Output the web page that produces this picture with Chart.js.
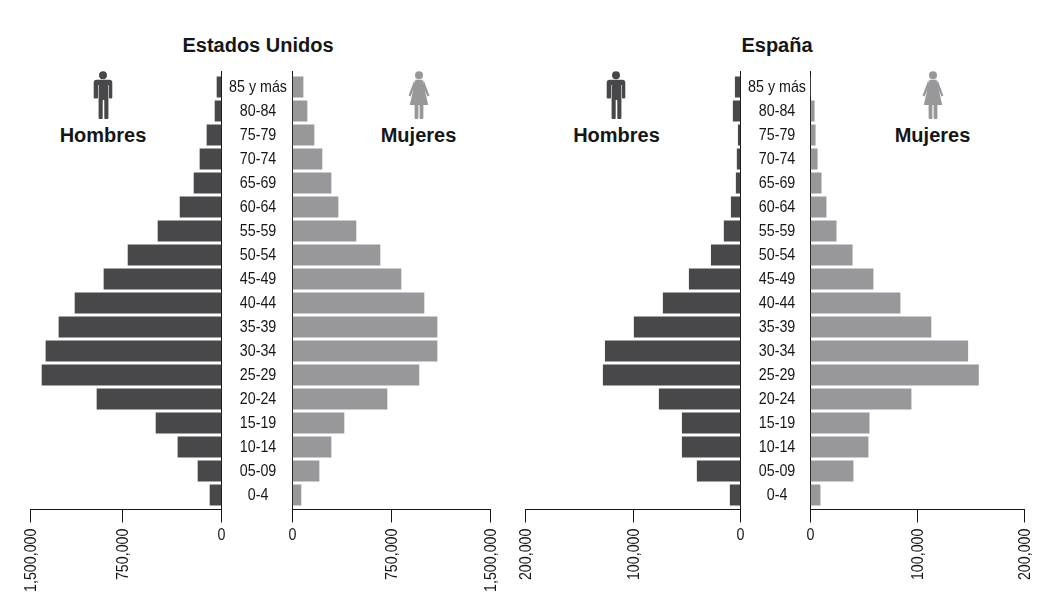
<!DOCTYPE html>
<html lang="es">
<head>
<meta charset="utf-8">
<title>Pirámides de población</title>
<script src="https://cdn.jsdelivr.net/npm/chart.js@4/dist/chart.umd.js"></script>
<style>
  html, body { margin: 0; padding: 0; background: #fff; }
  #stage { position: relative; width: 1062px; height: 606px; overflow: hidden; background: #fff; }
  canvas { position: absolute; top: 0; }
  .label { position: absolute; transform: translate(-50%, -50%); white-space: nowrap;
           font: bold 20px "Liberation Sans", Arial, sans-serif; color: #161616; }
  svg.icon { position: absolute; top: 71px; width: 30px; height: 49px; }
</style>
</head>
<body>
<div id="stage">
  <div class="label" style="left:258px;top:45px">Estados Unidos</div>
  <div class="label" style="left:777px;top:45px">España</div>
  <div class="label" style="left:103px;top:135px">Hombres</div>
  <div class="label" style="left:418.5px;top:135px">Mujeres</div>
  <div class="label" style="left:616.5px;top:135px">Hombres</div>
  <div class="label" style="left:932.5px;top:135px">Mujeres</div>
  <svg width="0" height="0" style="position:absolute">
    <defs>
      <g id="man" fill="#48484a">
        <circle cx="15" cy="4.2" r="4"/>
        <path d="M8.6 8.7h12.8q2.9 0 2.9 3V26.5q0 1-1.2 1h-1.1q-1 0-1-1V14h-.6V47q0 .9-1 .9h-2.1q-1 0-1-.9V29h-1.6V47q0 .9-1 .9h-2.1q-1 0-1-.9V14h-.6V26.5q0 1-1 1H6.9q-1.2 0-1.2-1V11.7q0-3 2.9-3z"/>
      </g>
      <g id="woman" fill="#98989b">
        <circle cx="15" cy="4.2" r="4"/>
        <path d="M11.5 8.7h7L24.2 34H19.4V47q0 .9-1 .9h-1.8q-1 0-1-.9V34h-1.2V47q0 .9-1 .9h-1.8q-1 0-1-.9V34H5.8z"/>
        <path d="M10.3 9.2 4.6 24.6 6.6 25.6 11.2 14.5z"/>
        <path d="M19.7 9.2 25.4 24.6 23.4 25.6 18.8 14.5z"/>
      </g>
    </defs>
  </svg>
  <svg class="icon" style="left:87.5px" viewBox="0 0 30 49"><use href="#man"/></svg>
  <svg class="icon" style="left:403.5px" viewBox="0 0 30 49"><use href="#woman"/></svg>
  <svg class="icon" style="left:601px" viewBox="0 0 30 49"><use href="#man"/></svg>
  <svg class="icon" style="left:917.5px" viewBox="0 0 30 49"><use href="#woman"/></svg>
</div>
<script>
const ageGroups = ['85 y más','80-84','75-79','70-74','65-69','60-64','55-59','50-54','45-49','40-44','35-39','30-34','25-29','20-24','15-19','10-14','05-09','0-4'];
const usMen   = [34000,49000,110000,163000,208000,314000,481000,708000,901000,1137000,1268000,1374000,1406000,958000,496000,330000,178000,87000];
const usWomen = [80000,110000,163000,223000,292000,345000,481000,663000,822000,996000,1095000,1095000,958000,716000,390000,292000,201000,64000];
const esMen   = [4900,6800,2100,3100,4000,8600,15200,27200,47700,71900,98900,125800,127700,75600,54200,54200,40300,9600];
const esWomen = [2000,3500,4400,6300,10000,14600,24000,39000,58500,83700,112600,147000,157000,94000,54800,53800,39800,9000];
const usTicks = [0,750000,1500000];
const esTicks = [0,100000,200000];

const MEN = '#48484a', WOMEN = '#98989b', INK = '#161616';
const TICK_FONT = { family: '"Liberation Sans",Arial,sans-serif', size: 17 };
const BAND = 24, LEAD = 16, CONDENSE = 0.84;

// The reference's tick text is set condensed: fillText's maxWidth narrows each label around its anchor.
function condense(scale, items) {
  const ctx = scale.ctx;
  ctx.save();
  items.forEach(it => {
    ctx.font = it.font.string;
    it.options.maxWidth = ctx.measureText(it.label).width * CONDENSE;
  });
  ctx.restore();
}

// Linear axis whose interval between ticks may be unequal, and whose zero label stays upright.
class PyramidValueScale extends Chart.LinearScale {
  static id = 'pyramidValue';
  static defaults = Chart.LinearScale.defaults;
  getPixelForValue(v) {
    if (v === null || v === undefined) return NaN;
    const bend = this.options.midDecimal, mid = (this.min + this.max) / 2;
    let d = (v - this.min) / (this.max - this.min);
    if (bend !== undefined) d = v <= mid ? (v - this.min) / (mid - this.min) * bend
                                         : bend + (v - mid) / (this.max - mid) * (1 - bend);
    return this.getPixelForDecimal(d);
  }
  _computeLabelItems(area) {
    const items = super._computeLabelItems(area);
    condense(this, items);
    items.forEach((it, i) => {
      const t = it.options.translation;
      if (it.label === '0') {
        it.options.rotation = 0;
        it.options.textAlign = 'center';
        it.options.textBaseline = 'middle';
        it.options.translation = [this.getPixelForTick(i), t[1]];
        it.textOffset = 7;
      } else {
        it.options.translation = [t[0] + 1, t[1]];
      }
    });
    return items;
  }
}
// Category axis with a fixed band height, whose axis line runs a little past the first and last bands.
class PyramidCategoryScale extends Chart.CategoryScale {
  static id = 'pyramidCategory';
  static defaults = Chart.CategoryScale.defaults;
  buildTicks() {
    const t = super.buildTicks();
    this._startValue = -LEAD / BAND;
    this._valueRange = this.height / BAND;
    return t;
  }
  _computeLabelItems(area) {
    const items = super._computeLabelItems(area);
    condense(this, items);
    return items;
  }
}
Chart.register(PyramidValueScale, PyramidCategoryScale);

function panel(cfg) {
  const c = document.createElement('canvas');
  c.width = cfg.width; c.height = 606;
  c.style.left = cfg.left + 'px';
  document.getElementById('stage').appendChild(c);
  const isMen = cfg.side === 'men';
  new Chart(c, {
    type: 'bar',
    data: { labels: ageGroups, datasets: [{
      label: cfg.name, data: cfg.values, barThickness: 20.5,
      backgroundColor: cfg.colors || cfg.color, borderWidth: 0
    }] },
    options: {
      indexAxis: 'y', responsive: false, animation: false, events: [],
      layout: { padding: { top: 71, bottom: 0, left: cfg.padL, right: cfg.padR } },
      plugins: { legend: { display: false }, tooltip: { enabled: false }, title: { display: false } },
      scales: {
        x: {
          type: 'pyramidValue', position: 'bottom', reverse: isMen,
          min: 0, max: cfg.ticks[cfg.ticks.length - 1], midDecimal: cfg.midDecimal,
          afterBuildTicks: s => { s.ticks = cfg.ticks.map(v => ({ value: v })); },
          afterFit: s => { s.height = 96.5; },
          grid: { display: true, drawOnChartArea: false, drawTicks: true, tickLength: 13, tickColor: INK, tickWidth: 1 },
          border: { display: true, color: INK, width: 1 },
          ticks: { autoSkip: false, minRotation: 90, maxRotation: 90, padding: 6, color: INK, font: TICK_FONT,
                   callback: v => v.toLocaleString('en-US') }
        },
        y: {
          type: 'pyramidCategory', offset: true, position: isMen ? 'right' : 'left',
          afterFit: s => { s.width = cfg.yWidth; },
          grid: { display: false, drawTicks: false },
          border: { display: true, color: INK, width: 1 },
          ticks: { display: !isMen, autoSkip: false, padding: cfg.labelPad || 0, crossAlign: 'center', color: INK, font: TICK_FONT }
        }
      }
    }
  });
}

// The oldest Spanish women's bar is masked white in the source picture.
const esWomenColors = ageGroups.map((_, i) => i === 0 ? '#ffffff' : WOMEN);

panel({ name: 'Hombres EE. UU.', side: 'men', left: 0, width: 240, padL: 30.5, padR: 18.5, yWidth: 0, values: usMen, color: MEN, ticks: usTicks, midDecimal: 99 / 191 });
panel({ name: 'Mujeres EE. UU.', side: 'women', left: 220, width: 300, padL: 0, padR: 29.5, yWidth: 72.5, labelPad: 0, values: usWomen, color: WOMEN, ticks: usTicks });
panel({ name: 'Hombres España', side: 'men', left: 490, width: 260, padL: 35.5, padR: 9.5, yWidth: 0, values: esMen, color: MEN, ticks: esTicks });
panel({ name: 'Mujeres España', side: 'women', left: 740, width: 322, padL: 0, padR: 37.5, yWidth: 70.5, labelPad: -1, values: esWomen, color: WOMEN, colors: esWomenColors, ticks: esTicks });
</script>
</body>
</html>
